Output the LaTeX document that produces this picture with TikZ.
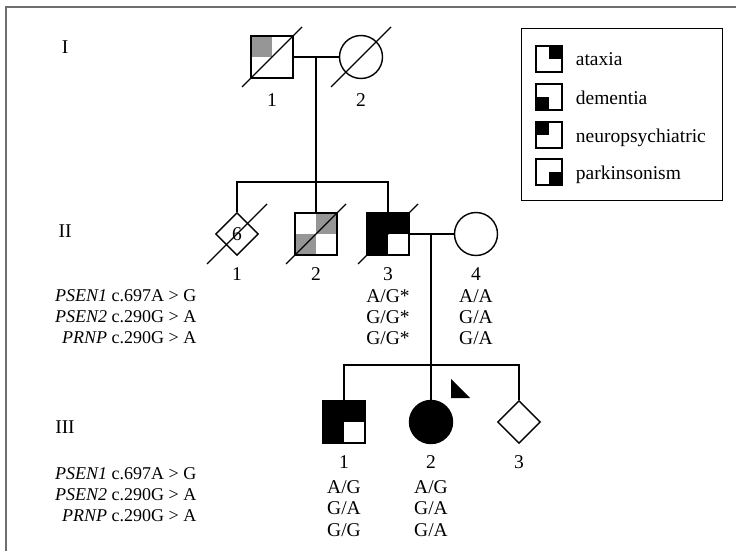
\documentclass[tikz,border=0pt]{standalone}
\usepackage{fontspec}
\setmainfont{Liberation Serif}
\usetikzlibrary{shapes.geometric}
\definecolor{pedgray}{RGB}{150,150,150}
\definecolor{framegray}{RGB}{110,110,110}
\newcommand\deceased[1]{\draw ([shift={(-30,30)}]#1.center) -- ([shift={(30,-30)}]#1.center);}

\begin{document}
\begin{tikzpicture}[x=1pt, y=-1pt, line width=1.4pt, font=\fontsize{19.5}{23}\selectfont,
    male/.style={draw, rectangle, minimum size=42pt, inner sep=0pt},
    female/.style={draw, circle, minimum size=43pt, inner sep=0pt},
    unknown/.style={draw, diamond, minimum size=43pt, inner sep=0pt},
    key/.style={draw, rectangle, minimum size=26pt, inner sep=0pt, line width=2.4pt},
    lbl/.style={inner sep=0pt},
    gene/.style={inner sep=0pt, anchor=east, font=\fontsize{18}{22}\selectfont},
    quad/.style n args={4}{path picture={
        \fill[#1] (path picture bounding box.north west) rectangle (path picture bounding box.center);
        \fill[#2] (path picture bounding box.north east) rectangle (path picture bounding box.center);
        \fill[#3] (path picture bounding box.south west) rectangle (path picture bounding box.center);
        \fill[#4] (path picture bounding box.south east) rectangle (path picture bounding box.center);}}]
\useasboundingbox (0,0) rectangle (736,551);
\draw[framegray, line width=1.2pt] (6,551) -- (6,7) -- (736,7);

% generation I
\node[lbl] (genI) at (65,47) {I};
\node[male, quad={pedgray}{white}{white}{white}] (i1) at (272,57) {};
\node[female] (i2) at (361,57) {};
\deceased{i1}
\deceased{i2}
\draw (i1.east) -- (i2.west);
\node (n-i1) at (272,100) {1};
\node (n-i2) at (361,100) {2};

% generation II
\node[lbl] (genII) at (65,231) {II};
\node[unknown] (ii1) at (237,234) {6};
\node[male, quad={white}{pedgray}{pedgray}{white}] (ii2) at (316,234) {};
\node[male, quad={black}{black}{black}{white}] (ii3) at (388,234) {};
\node[female] (ii4) at (476,234) {};
\deceased{ii1}
\deceased{ii2}
\deceased{ii3}
\coordinate (matI) at (316,57);
\coordinate (sibII) at (316,182);
\draw (matI) -- (ii2.north);
\draw (ii1.north) |- (sibII) -| (ii3.north);
\draw (ii3.east) -- (ii4.west);
\node (n-ii1) at (237,274) {1};
\node (n-ii2) at (316,274) {2};
\node (n-ii3) at (388,274) {3};
\node (n-ii4) at (476,274) {4};
\node (g-ii3a) at (388,296) {A/G*};
\node (g-ii3b) at (388,317) {G/G*};
\node (g-ii3c) at (388,338) {G/G*};
\node (g-ii4a) at (476,296) {A/A};
\node (g-ii4b) at (476,317) {G/A};
\node (g-ii4c) at (476,338) {G/A};
\node[gene] (gene-ii1) at (197,296) {\textit{PSEN1} c.697A > G};
\node[gene] (gene-ii2) at (197,317) {\textit{PSEN2} c.290G > A};
\node[gene] (gene-ii3) at (197,338) {\textit{PRNP} c.290G > A};

% generation III
\node[lbl] (genIII) at (65,427) {III};
\node[male, quad={black}{black}{black}{white}] (iii1) at (344,422) {};
\node[female, fill=black] (iii2) at (431,422) {};
\node[unknown] (iii3) at (519,422) {};
\coordinate (matII) at (431,234);
\coordinate (sibIII) at (431,365);
\draw (matII) -- (iii2.north);
\draw (iii1.north) |- (sibIII) -| (iii3.north);
\fill (451,379) -- (451,398) -- (470,398) -- cycle;
\node (n-iii1) at (344,462) {1};
\node (n-iii2) at (431,462) {2};
\node (n-iii3) at (519,462) {3};
\node (g-iii1a) at (344,487) {A/G};
\node (g-iii1b) at (344,508) {G/A};
\node (g-iii1c) at (344,530) {G/G};
\node (g-iii2a) at (431,487) {A/G};
\node (g-iii2b) at (431,508) {G/A};
\node (g-iii2c) at (431,530) {G/A};
\node[gene] (gene-iii1) at (197,474) {\textit{PSEN1} c.697A > G};
\node[gene] (gene-iii2) at (197,495) {\textit{PSEN2} c.290G > A};
\node[gene] (gene-iii3) at (197,516) {\textit{PRNP} c.290G > A};

% legend
\draw[line width=1pt] (521,29) rectangle (722,200);
\foreach \lab/\yy/\qa/\qb/\qc/\qd [count=\k] in {ataxia/59/white/black/white/white,
    dementia/97/white/white/black/white, neuropsychiatric/135/black/white/white/white,
    parkinsonism/172/white/white/white/black}{
  \node[key, quad={\qa}{\qb}{\qc}{\qd}] (key\k) at (549,\yy) {};
  \node[lbl, anchor=base west] (keytext\k) at ([shift={(12,7)}]key\k.east) {\lab};
}
\end{tikzpicture}
\end{document}
